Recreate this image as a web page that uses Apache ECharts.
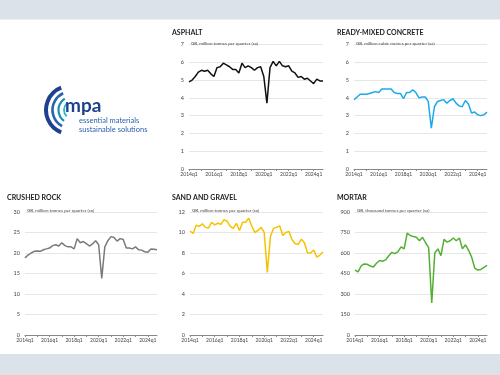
<!DOCTYPE html>
<html>
<head>
<meta charset="utf-8">
<script src="https://cdn.jsdelivr.net/npm/echarts@6/dist/echarts.min.js"></script>
<style>
  html, body { margin: 0; padding: 0; background: #fff; }
  #chart { width: 500px; height: 375px; }
</style>
</head>
<body>
<div id="chart"></div>
<script>
// quarters 2014q1 .. 2024q4
const quarters = []
for (let y = 2014; y <= 2024; y++) {
    for (let q = 1; q <= 4; q++) quarters.push(y + 'q' + q)
}

const asphalt = [4.9, 5.0, 5.2, 5.45, 5.55, 5.5, 5.55, 5.35, 5.2, 5.7, 5.75, 5.95, 5.85, 5.75, 5.6, 5.6,
    5.4, 5.95, 5.7, 5.8, 5.7, 5.55, 5.7, 5.75, 5.2, 3.7, 5.7, 6.05, 5.8, 6.05, 5.8, 5.75,
    5.8, 5.5, 5.4, 5.15, 5.2, 5.05, 5.1, 4.95, 4.8, 5.05, 4.95, 4.95]

const readyMixed = [3.9, 4.05, 4.2, 4.2, 4.2, 4.25, 4.3, 4.35, 4.3, 4.5, 4.5, 4.5, 4.5, 4.3, 4.25, 4.25,
    3.95, 4.3, 4.3, 4.45, 4.3, 4.0, 4.05, 4.05, 3.8, 2.3, 3.5, 3.8, 3.85, 3.9, 3.7, 3.85,
    3.95, 3.7, 3.55, 3.5, 3.85, 3.65, 3.15, 3.2, 3.05, 3.0, 3.05, 3.2]

const crushedRock = [18.8, 19.5, 20.0, 20.4, 20.5, 20.4, 20.8, 21.0, 21.2, 21.8, 22.0, 21.7, 22.5, 21.8, 21.5, 21.5,
    21.0, 23.5, 22.5, 22.8, 22.3, 21.7, 22.2, 23.0, 22.0, 13.8, 21.5, 23.0, 24.0, 23.8, 22.9, 23.5,
    23.3, 21.2, 21.2, 21.0, 21.5, 20.8, 20.7, 20.3, 20.2, 21.0, 20.9, 20.8]

const sandGravel = [10.15, 9.9, 10.7, 10.6, 10.85, 10.5, 10.45, 11.0, 10.75, 10.9, 10.8, 11.25, 11.1, 10.6, 10.4, 10.9,
    10.2, 11.0, 11.0, 11.4, 10.6, 10.0, 10.2, 10.5, 10.0, 6.1, 9.6, 10.4, 10.5, 10.65, 9.7, 10.0,
    10.1, 9.3, 8.9, 8.85, 9.35, 9.0, 8.0, 8.0, 8.3, 7.6, 7.8, 8.1]

const mortar = [475, 462, 505, 520, 517, 505, 497, 525, 545, 540, 550, 580, 605, 595, 610, 645,
    630, 745, 728, 720, 715, 690, 715, 675, 640, 235, 600, 630, 580, 700, 680, 690,
    710, 690, 710, 630, 660, 620, 570, 490, 475, 480, 495, 510]

const panels = [
    { title: 'ASPHALT', unit: 'GB, million tonnes per quarter (sa)', data: asphalt, color: '#111111',
      max: 7, step: 1, left: 189, width: 134, top: 44.5, height: 124.5, tx: 172, ty: 29 },
    { title: 'READY-MIXED CONCRETE', unit: 'GB, million cubic metres per quarter (sa)', data: readyMixed, color: '#1ba9ea',
      max: 7, step: 1, left: 354, width: 133, top: 44.5, height: 124.5, tx: 337, ty: 29 },
    { title: 'CRUSHED ROCK', unit: 'GB, million tonnes per quarter (sa)', data: crushedRock, color: '#7a7a7a',
      max: 30, step: 5, left: 25, width: 132, top: 212, height: 123, tx: 7, ty: 194 },
    { title: 'SAND AND GRAVEL', unit: 'GB, million tonnes per quarter (sa)', data: sandGravel, color: '#f6c200',
      max: 12, step: 2, left: 190, width: 133, top: 212, height: 123, tx: 172, ty: 194 },
    { title: 'MORTAR', unit: 'GB, thousand tonnes per quarter (sa)', data: mortar, color: '#52b031',
      max: 900, step: 150, left: 355, width: 132, top: 212, height: 123, tx: 337, ty: 194 }
]

const font = 'Lato, "Open Sans", sans-serif'

const chart = echarts.init(document.getElementById('chart'))

const option = {
    backgroundColor: '#ffffff',
    animation: false,
    title: [],
    grid: [],
    xAxis: [],
    yAxis: [],
    series: [],
    graphic: [
        // header and footer bands
        { type: 'rect', shape: { x: 0, y: 0, width: 500, height: 19.5 }, style: { fill: '#dbe2e9' } },
        { type: 'rect', shape: { x: 0, y: 354, width: 500, height: 21 }, style: { fill: '#dbe2e9' } },
        // logo arcs
        { type: 'arc', shape: { cx: 70, cy: 110, r: 24, startAngle: Math.PI * 0.62, endAngle: Math.PI * 1.38 },
          style: { stroke: '#1f3f8f', lineWidth: 4, fill: null } },
        { type: 'arc', shape: { cx: 71, cy: 110, r: 18.5, startAngle: Math.PI * 0.66, endAngle: Math.PI * 1.36 },
          style: { stroke: '#2a63b0', lineWidth: 2.6, fill: null } },
        { type: 'arc', shape: { cx: 72, cy: 110, r: 13.5, startAngle: Math.PI * 0.7, endAngle: Math.PI * 1.32 },
          style: { stroke: '#1b8fb0', lineWidth: 2.2, fill: null } },
        { type: 'arc', shape: { cx: 73, cy: 110, r: 9, startAngle: Math.PI * 0.75, endAngle: Math.PI * 1.28 },
          style: { stroke: '#27b5c9', lineWidth: 1.8, fill: null } },
        { type: 'text', left: 65, top: 96, style: { text: 'mpa', fill: '#1f3f8f', font: 'bold 19px ' + font } },
        { type: 'text', left: 79, top: 117, style: { text: 'essential materials', fill: '#2a5fae', font: '7.5px ' + font } },
        { type: 'text', left: 79, top: 125.5, style: { text: 'sustainable solutions', fill: '#2a5fae', font: '7.5px ' + font } }
    ]
}

panels.forEach((p, i) => {
    option.title.push({
        text: p.title, left: p.tx, top: p.ty, padding: 0,
        textStyle: { fontFamily: font, fontSize: 7, fontWeight: 'bold', color: '#222' }
    })
    option.title.push({
        text: p.unit, left: p.left + 2, top: p.top - 3.5, padding: 0,
        textStyle: { fontFamily: font, fontSize: 4.5, fontWeight: 'normal', color: '#444' }
    })
    option.grid.push({ left: p.left, top: p.top, width: p.width, height: p.height, containLabel: false })
    option.xAxis.push({
        type: 'category', gridIndex: i, data: quarters, boundaryGap: false,
        axisLine: { lineStyle: { color: '#888', width: 1 } },
        axisTick: { interval: 3, length: 2, lineStyle: { color: '#888' } },
        axisLabel: { interval: 7, fontFamily: font, fontSize: 5, color: '#444', margin: 3 },
        splitLine: { show: false }
    })
    option.yAxis.push({
        type: 'value', gridIndex: i, min: 0, max: p.max, interval: p.step,
        axisLine: { show: false }, axisTick: { show: false },
        axisLabel: { fontFamily: font, fontSize: 5.5, color: '#444', margin: 5 },
        splitLine: { lineStyle: { color: '#e6e6e6', width: 1 } }
    })
    option.series.push({
        type: 'line', xAxisIndex: i, yAxisIndex: i, data: p.data,
        symbol: 'none', lineStyle: { color: p.color, width: 1.5 }
    })
})

chart.setOption(option)
</script>
</body>
</html>
